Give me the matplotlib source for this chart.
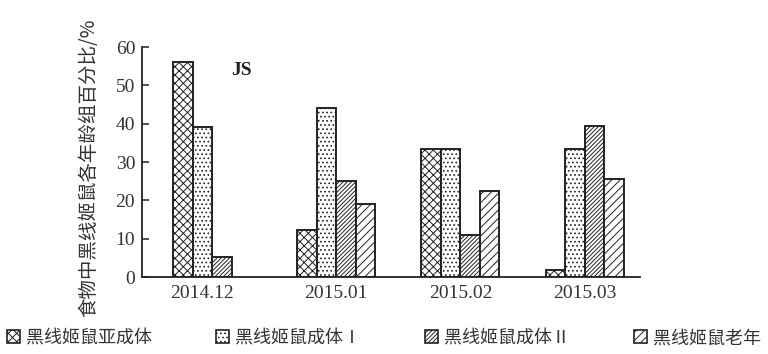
import numpy as np
import matplotlib
matplotlib.use("Agg")
import matplotlib.pyplot as plt
from matplotlib.patches import Patch

plt.rcParams['font.family'] = ['Noto Sans CJK SC', 'DejaVu Sans']
plt.rcParams['hatch.linewidth'] = 0.7

months = ["2014.12", "2015.01", "2015.02", "2015.03"]
series_names = ["黑线姬鼠亚成体", "黑线姬鼠成体Ⅰ", "黑线姬鼠成体Ⅱ", "黑线姬鼠老年"]
subadult = [56.0, 12.3, 33.4, 1.9]
adult_1 = [39.2, 44.0, 33.4, 33.4]
adult_2 = [5.3, 25.0, 10.9, 39.5]
elderly = [0.0, 19.0, 22.4, 25.6]
y_ticks = [0, 10, 20, 30, 40, 50, 60]

series = [subadult, adult_1, adult_2, elderly]
hatches = ['xxxx', '....', '/' * 8, '////']
ink = '#222222'
serif = 'Liberation Serif'

fig = plt.figure(figsize=(7.68, 3.54), dpi=100)
ax = fig.add_axes([0.185, 0.2175, 0.648, 0.6497])

x = np.arange(len(months))
w = 0.157
offsets = (np.arange(len(series)) - (len(series) - 1) / 2) * w

tick_pos = []
for i in range(len(months)):
    drawn = []
    for k, vals in enumerate(series):
        if vals[i] <= 0:
            continue
        ax.bar(x[i] + offsets[k], vals[i], width=w, facecolor='white',
               edgecolor=ink, hatch=hatches[k], linewidth=1.4, zorder=2)
        drawn.append(x[i] + offsets[k])
    tick_pos.append(np.mean(drawn))

ax.set_xlim(-0.563, 3.443)
ax.set_ylim(0, 60)
ax.set_yticks(y_ticks)
ax.set_yticklabels([str(t) for t in y_ticks], fontfamily=serif, fontsize=14, color='#333333')
ax.set_xticks(tick_pos)
ax.set_xticklabels(months, fontfamily=serif, fontsize=14, color='#333333')
ax.tick_params(axis='y', direction='in', length=5, width=1.1, pad=5, color=ink)
ax.tick_params(axis='x', length=0, pad=6)
for s in ['top', 'right']:
    ax.spines[s].set_visible(False)
for s in ['left', 'bottom']:
    ax.spines[s].set_linewidth(1.3)
    ax.spines[s].set_color(ink)

ax.text(0.233, 54, "JS", fontfamily=serif, fontweight='bold', fontsize=14,
        ha='center', va='center', color='#222222')

fig.text(0.116, 0.525, "食物中黑线姬鼠各年龄组百分比/%", rotation=90,
         ha='center', va='center', fontsize=14, color='#333333')

handles = [Patch(facecolor='white', edgecolor=ink, hatch=h, linewidth=1.2) for h in hatches]
leg = fig.legend(handles, series_names, loc='center', bbox_to_anchor=(0.5, 0.045),
                 ncol=4, frameon=False, fontsize=13, handlelength=0.7, handleheight=0.7,
                 handletextpad=0.35, columnspacing=3.55, borderaxespad=0)
for t in leg.get_texts():
    t.set_color('#333333')

fig.savefig("out.png", dpi=100)
